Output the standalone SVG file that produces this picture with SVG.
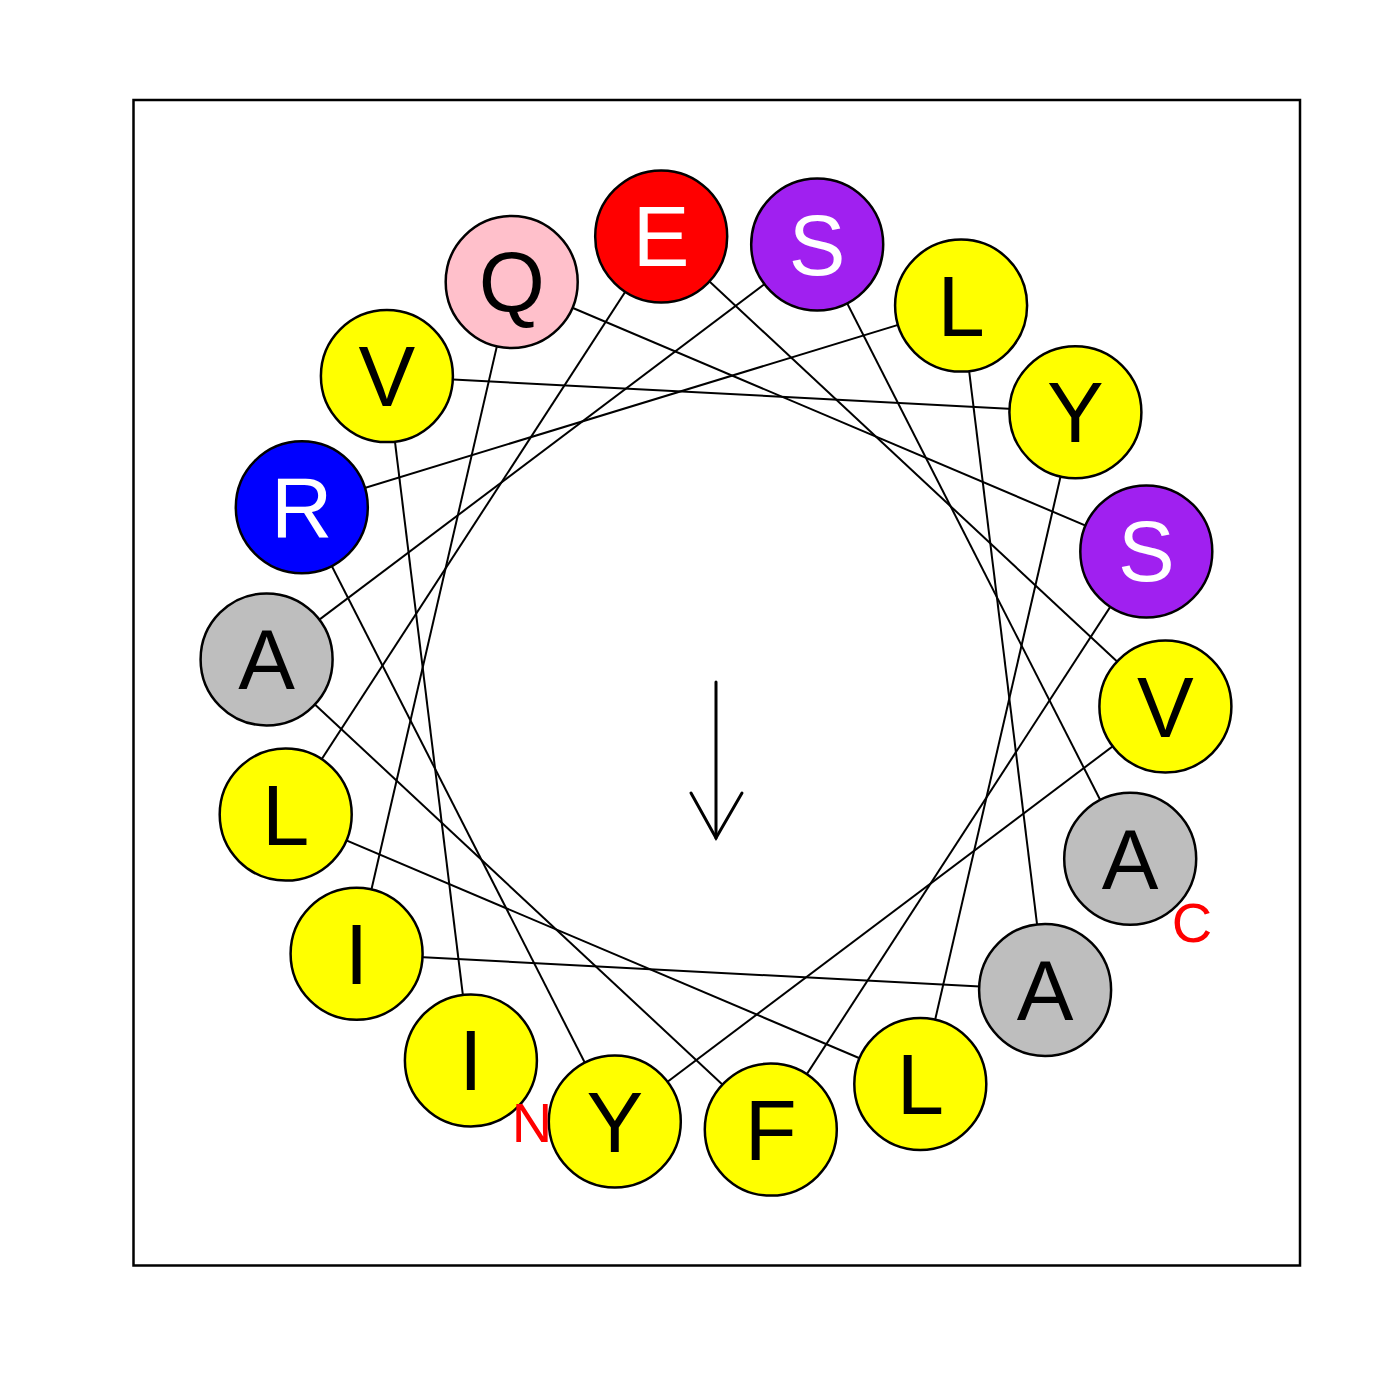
<svg xmlns="http://www.w3.org/2000/svg" width="1400" height="1400" viewBox="0 0 1400 1400">
<style>
.res{stroke:#000;stroke-width:2.5}
.lab{font-family:"Liberation Sans",Arial,sans-serif;font-size:85px;text-anchor:middle}
.term{font-family:"Liberation Sans",Arial,sans-serif;font-size:56px;text-anchor:middle;fill:#FF0000}
.con line{stroke:#000;stroke-width:2}
.y{fill:#FFFF00}.g{fill:#BEBEBE}.r{fill:#FF0000}.p{fill:#A020F0}.b{fill:#0000FF}.k{fill:#FFC0CB}
.wt{fill:#FFFFFF}.bt{fill:#000000}
</style>
<rect x="0" y="0" width="1400" height="1400" fill="#FFFFFF"/>
<rect x="133.5" y="100" width="1166.5" height="1165.5" fill="none" stroke="#000" stroke-width="2.5"/>
<g id="connectors" class="con">
<line x1="614.8" y1="1121.5" x2="1165.4" y2="706.6"/>
<line x1="770.8" y1="1129.6" x2="1146.3" y2="551.4"/>
<line x1="920.3" y1="1084.0" x2="1075.4" y2="412.2"/>
<line x1="1045.1" y1="989.9" x2="961.1" y2="305.6"/>
<line x1="1130.2" y1="858.8" x2="817.2" y2="244.5"/>
<line x1="1165.4" y1="706.6" x2="661.2" y2="236.4"/>
<line x1="1146.3" y1="551.4" x2="511.7" y2="282.0"/>
<line x1="1075.4" y1="412.2" x2="386.9" y2="376.1"/>
<line x1="961.1" y1="305.6" x2="301.8" y2="507.2"/>
<line x1="817.2" y1="244.5" x2="266.6" y2="659.4"/>
<line x1="661.2" y1="236.4" x2="285.7" y2="814.6"/>
<line x1="511.7" y1="282.0" x2="356.6" y2="953.8"/>
<line x1="386.9" y1="376.1" x2="470.9" y2="1060.4"/>
<line x1="301.8" y1="507.2" x2="614.8" y2="1121.5"/>
<line x1="266.6" y1="659.4" x2="770.8" y2="1129.6"/>
<line x1="285.7" y1="814.6" x2="920.3" y2="1084.0"/>
<line x1="356.6" y1="953.8" x2="1045.1" y2="989.9"/>
</g>
<g id="arrow" stroke="#000" stroke-width="3" fill="none" stroke-linecap="round">
<line x1="716" y1="682" x2="716" y2="838"/>
<polyline points="691,793 716,838 742,793"/>
</g>
<g id="r0"><circle class="res y" cx="614.8" cy="1121.5" r="66"/><text class="lab bt" x="614.8" y="1151.5">Y</text></g>
<g id="r1"><circle class="res y" cx="770.8" cy="1129.6" r="66"/><text class="lab bt" x="770.8" y="1159.6">F</text></g>
<g id="r2"><circle class="res y" cx="920.3" cy="1084.0" r="66"/><text class="lab bt" x="920.3" y="1114.0">L</text></g>
<g id="r3"><circle class="res g" cx="1045.1" cy="989.9" r="66"/><text class="lab bt" x="1045.1" y="1019.9">A</text></g>
<g id="r4"><circle class="res g" cx="1130.2" cy="858.8" r="66"/><text class="lab bt" x="1130.2" y="888.8">A</text></g>
<g id="r5"><circle class="res y" cx="1165.4" cy="706.6" r="66"/><text class="lab bt" x="1165.4" y="736.6">V</text></g>
<g id="r6"><circle class="res p" cx="1146.3" cy="551.4" r="66"/><text class="lab wt" x="1146.3" y="581.4">S</text></g>
<g id="r7"><circle class="res y" cx="1075.4" cy="412.2" r="66"/><text class="lab bt" x="1075.4" y="442.2">Y</text></g>
<g id="r8"><circle class="res y" cx="961.1" cy="305.6" r="66"/><text class="lab bt" x="961.1" y="335.6">L</text></g>
<g id="r9"><circle class="res p" cx="817.2" cy="244.5" r="66"/><text class="lab wt" x="817.2" y="274.5">S</text></g>
<g id="r10"><circle class="res r" cx="661.2" cy="236.4" r="66"/><text class="lab wt" x="661.2" y="266.4">E</text></g>
<g id="r11"><circle class="res k" cx="511.7" cy="282.0" r="66"/><text class="lab bt" x="511.7" y="312.0">Q</text></g>
<g id="r12"><circle class="res y" cx="386.9" cy="376.1" r="66"/><text class="lab bt" x="386.9" y="406.1">V</text></g>
<g id="r13"><circle class="res b" cx="301.8" cy="507.2" r="66"/><text class="lab wt" x="301.8" y="537.2">R</text></g>
<g id="r14"><circle class="res g" cx="266.6" cy="659.4" r="66"/><text class="lab bt" x="266.6" y="689.4">A</text></g>
<g id="r15"><circle class="res y" cx="285.7" cy="814.6" r="66"/><text class="lab bt" x="285.7" y="844.6">L</text></g>
<g id="r16"><circle class="res y" cx="356.6" cy="953.8" r="66"/><text class="lab bt" x="356.6" y="983.8">I</text></g>
<g id="r17"><circle class="res y" cx="470.9" cy="1060.4" r="66"/><text class="lab bt" x="470.9" y="1090.4">I</text></g>
<g id="termini">
<text class="term" x="532" y="1142">N</text>
<text class="term" x="1192" y="942">C</text>
</g>
</svg>
